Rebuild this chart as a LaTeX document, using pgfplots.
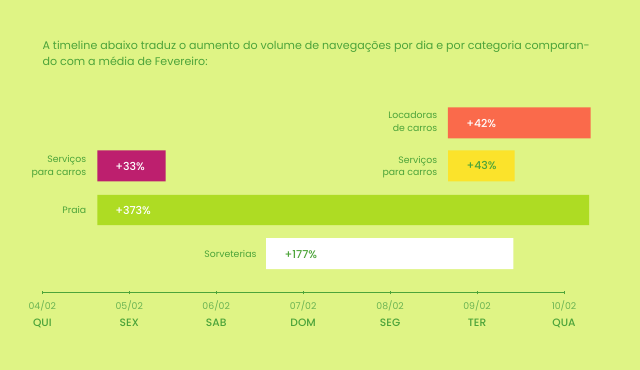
\documentclass[border=0pt]{standalone}
\usepackage{pgfplots}
\pgfplotsset{compat=1.18}
\usepackage{fontspec}
\setmainfont{Poppins}
\newfontface\pmed{Poppins Medium}
\usetikzlibrary{backgrounds}
\definecolor{bg}{HTML}{DFF485}
\definecolor{txt}{HTML}{4DA43A}
\definecolor{tickc}{HTML}{6CB453}
\definecolor{loc}{HTML}{FA6A4B}
\definecolor{mag}{HTML}{BD1F6E}
\definecolor{yel}{HTML}{FBE32B}
\definecolor{lime}{HTML}{AEDC23}
\newcommand{\tl}[2]{{\fontsize{7}{8}\selectfont\color{tickc}#1}\\[0.8pt]{\fontsize{8}{9}\selectfont\pmed\color{txt}#2}}
\begin{document}
\begin{tikzpicture}
\begin{axis}[
  scale only axis,
  width=391.3pt, height=144.5pt,
  xmin=0, xmax=6, ymin=-292.7, ymax=-100,
  clip=false,
  axis x line*=bottom, axis y line=none,
  axis line style={-, draw=txt, line width=0.6pt},
  xtick={0,...,6},
  xticklabels={{\tl{04/02}{QUI}},{\tl{05/02}{SEX}},{\tl{06/02}{SAB}},{\tl{07/02}{DOM}},{\tl{08/02}{SEG}},{\tl{09/02}{TER}},{\tl{10/02}{QUA}}},
  xticklabel style={align=center, text=txt, yshift=-1.5pt},
  tick align=center, major tick length=2.5pt,
  tick style={draw=txt, line width=0.6pt},
  ytick=\empty,
]
% bars: (start day, end day) x (top px, bottom px)
\addplot[fill=loc, draw=none] coordinates {(4.663,-107.3) (6.307,-107.3) (6.307,-138.3) (4.663,-138.3) (4.663,-107.3)};
\addplot[fill=mag, draw=none] coordinates {(0.633,-150.5) (1.419,-150.5) (1.419,-181.3) (0.633,-181.3) (0.633,-150.5)};
\addplot[fill=yel, draw=none] coordinates {(4.666,-150.5) (5.433,-150.5) (5.433,-181.3) (4.666,-181.3) (4.666,-150.5)};
\addplot[fill=lime, draw=none] coordinates {(0.633,-195) (6.288,-195) (6.288,-225.3) (0.633,-225.3) (0.633,-195)};
\addplot[fill=white, draw=none] coordinates {(2.573,-238.3) (5.417,-238.3) (5.417,-269.3) (2.573,-269.3) (2.573,-238.3)};
% title
\node[anchor=base west, inner sep=0, text=txt, font=\fontsize{8.3}{9}\selectfont] at (axis cs:0,-49.5) {A timeline abaixo traduz o aumento do volume de navegações por dia e por categoria comparan-};
\node[anchor=base west, inner sep=0, text=txt, font=\fontsize{8.3}{9}\selectfont] at (axis cs:0,-66) {do com a média de Fevereiro:};
% category labels
\tikzset{cat/.style={anchor=east, inner sep=0, align=right, text=txt, font=\fontsize{7}{9.4}\selectfont}}
\node[cat] at (axis cs:4.545,-121.5) {Locadoras\\de carros};
\node[cat] at (axis cs:0.508,-166.5) {Serviços\\para carros};
\node[cat] at (axis cs:4.545,-167) {Serviços\\para carros};
\node[cat] at (axis cs:0.508,-210) {Praia};
\node[cat] at (axis cs:2.466,-254) {Sorveterias};
% value labels
\tikzset{val/.style={anchor=west, inner sep=0, font=\fontsize{8.2}{9}\selectfont\pmed}}
\node[val, text=white] at (axis cs:4.873,-124) {+42\%};
\node[val, text=white] at (axis cs:0.836,-166.5) {+33\%};
\node[val, text=txt] at (axis cs:4.876,-166) {+43\%};
\node[val, text=white] at (axis cs:0.836,-211) {+373\%};
\node[val, text=txt] at (axis cs:2.783,-254.3) {+177\%};
\coordinate (bgSW) at (axis cs:-0.4865,-370);
\coordinate (bgNE) at (axis cs:6.8738,0);
\end{axis}
\begin{scope}[on background layer]
\fill[bg] (bgSW) rectangle (bgNE);
\end{scope}
\end{tikzpicture}
\end{document}
